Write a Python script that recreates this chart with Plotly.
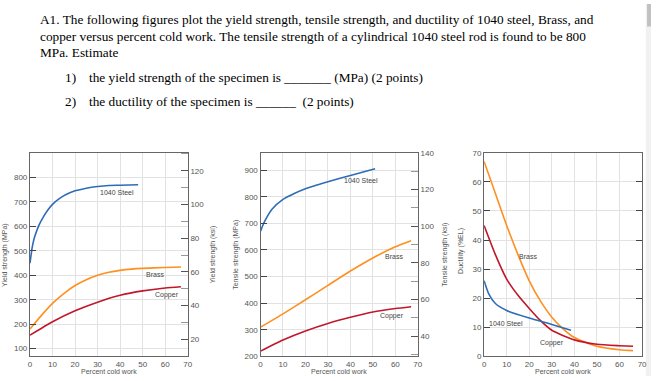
import plotly.graph_objects as go

# ---------------- data ----------------
# Yield strength (MPa) vs percent cold work
ys_steel_x = [0, 1, 2, 4, 6, 8, 10, 13, 16, 20, 25, 30, 35, 40, 48]
ys_steel_y = [450, 515, 555, 605, 640, 668, 690, 713, 730, 745, 756, 763, 767, 768, 770]
ys_brass_x = [0, 5, 10, 15, 20, 25, 30, 35, 40, 45, 50, 60, 67]
ys_brass_y = [180, 235, 285, 325, 358, 382, 400, 412, 420, 425, 428, 432, 434]
ys_copper_x = [0, 10, 20, 30, 40, 50, 60, 67]
ys_copper_y = [155, 210, 255, 290, 318, 336, 348, 353]

# Tensile strength (MPa) vs percent cold work
ts_steel_x = [0, 1, 2, 5, 10, 15, 20, 30, 40, 51]
ts_steel_y = [670, 692, 710, 752, 790, 812, 830, 856, 880, 905]
ts_brass_x = [0, 10, 20, 30, 40, 50, 60, 67]
ts_brass_y = [310, 360, 413, 467, 521, 570, 612, 635]
ts_copper_x = [0, 10, 20, 30, 40, 50, 60, 67]
ts_copper_y = [220, 262, 296, 324, 347, 367, 380, 387]

# Ductility (%EL) vs percent cold work
du_brass_x = [0, 5, 10, 15, 20, 25, 30, 35, 40, 50, 60, 66]
du_brass_y = [67, 56, 45, 35, 26, 19, 13.5, 9.5, 6.5, 3.5, 2.3, 2]
du_copper_x = [0, 5, 10, 15, 20, 25, 30, 40, 50, 60, 66]
du_copper_y = [45, 35, 26.6, 21, 16.5, 12.3, 9, 5.7, 4.2, 3.7, 3.5]
du_steel_x = [0, 2, 5, 10, 20, 30, 38.5]
du_steel_y = [26, 21.6, 18.2, 15.8, 13.2, 11, 9]

x_ticks = [0, 10, 20, 30, 40, 50, 60, 70]
ys_mpa_ticks = [100, 200, 300, 400, 500, 600, 700, 800]
ys_ksi_ticks = [20, 40, 60, 80, 100, 120]
ts_mpa_ticks = [200, 300, 400, 500, 600, 700, 800, 900]
ts_ksi_ticks = [40, 60, 80, 100, 120, 140]
du_ticks = [0, 10, 20, 30, 40, 50, 60, 70]
MPA_PER_KSI = 6.895

question_lines = [
    "A1. The following figures plot the yield strength, tensile strength, and ductility of 1040 steel, Brass, and",
    "copper versus percent cold work. The tensile strength of a cylindrical 1040 steel rod is found to be 800",
    "MPa. Estimate",
]
item_nums = ["1)", "2)"]
item_texts = [
    "the yield strength of the specimen is _______ (MPa) (2 points)",
    "the ductility of the specimen is ______\u00a0\u00a0(2 points)",
]

# ---------------- styling ----------------
W, H = 656, 381
BLUE, ORANGE, RED = "#2f6cb8", "#ff8f1f", "#c0182a"
AXC, GRIDC, TXTC = "#666666", "#e2e2e2", "#555555"
SANS = "Liberation Sans, Arial, sans-serif"
SERIF = "Liberation Serif, Times New Roman, serif"

def px(x):
    return x / W

def py(y):
    return 1 - y / H

Y_DOM = [py(361), py(152.3)]
X_DOMS = [[px(28.3), px(187.7)], [px(261.3), px(420.3)], [px(487.3), px(647)]]

fig = go.Figure()

def add(x, y, color, xa, ya):
    fig.add_trace(go.Scatter(x=x, y=y, mode="lines", line=dict(color=color, width=1.6, shape="spline", smoothing=0.6),
                             xaxis=xa, yaxis=ya, showlegend=False, hoverinfo="skip"))

add(ys_steel_x, ys_steel_y, BLUE, "x", "y")
add(ys_brass_x, ys_brass_y, ORANGE, "x", "y")
add(ys_copper_x, ys_copper_y, RED, "x", "y")
add(ts_steel_x, ts_steel_y, BLUE, "x2", "y3")
add(ts_brass_x, ts_brass_y, ORANGE, "x2", "y3")
add(ts_copper_x, ts_copper_y, RED, "x2", "y3")
add(du_brass_x, du_brass_y, ORANGE, "x3", "y5")
add(du_copper_x, du_copper_y, RED, "x3", "y5")
add(du_steel_x, du_steel_y, BLUE, "x3", "y5")
# empty traces so that the secondary (ksi) axes are drawn
fig.add_trace(go.Scatter(x=[], y=[], xaxis="x", yaxis="y2", showlegend=False, hoverinfo="skip"))
fig.add_trace(go.Scatter(x=[], y=[], xaxis="x2", yaxis="y4", showlegend=False, hoverinfo="skip"))

tickfont = dict(family=SANS, size=8, color=TXTC)

def xax(dom, anchor):
    return dict(domain=dom, anchor=anchor, range=[0, 70], tickvals=x_ticks, showline=True, linecolor=AXC,
                linewidth=1.2, mirror=True, showgrid=True, gridcolor=GRIDC, gridwidth=1, zeroline=False,
                ticks="", tickfont=tickfont, fixedrange=True)

def yleft(rng, anchor, tickvals, mirror=False):
    d = dict(domain=Y_DOM, anchor=anchor, range=rng, tickvals=tickvals, showline=True, linecolor=AXC,
             linewidth=1.2, showgrid=True, gridcolor=GRIDC, gridwidth=1, zeroline=False, ticks="inside",
             ticklen=6, tickcolor="#444444", tickfont=tickfont, fixedrange=True)
    if mirror:
        d["mirror"] = "ticks"
    return d

def yright(rng, overlay, anchor, tickvals):
    return dict(overlaying=overlay, anchor=anchor, side="right", range=rng, tickvals=tickvals, showline=True,
                linecolor=AXC, linewidth=1.2, showgrid=False, zeroline=False, ticks="inside", ticklen=7,
                tickcolor="#555555", tickfont=tickfont, fixedrange=True,
                minor=dict(dtick=10, tick0=0, ticks="inside", ticklen=7, tickcolor="#999999", showgrid=False))

r1 = [68, 901]
r3 = [200, 965.3]
fig.update_layout(
    width=W, height=H, margin=dict(l=0, r=0, t=0, b=0),
    paper_bgcolor="white", plot_bgcolor="white",
    xaxis=xax(X_DOMS[0], "y"),
    xaxis2=xax(X_DOMS[1], "y3"),
    xaxis3=xax(X_DOMS[2], "y5"),
    yaxis=yleft(r1, "x", ys_mpa_ticks),
    yaxis2=yright([r1[0] / MPA_PER_KSI, r1[1] / MPA_PER_KSI], "y", "x", ys_ksi_ticks),
    yaxis3=yleft(r3, "x2", ts_mpa_ticks),
    yaxis4=yright([r3[0] / MPA_PER_KSI, r3[1] / MPA_PER_KSI], "y3", "x2", ts_ksi_ticks),
    yaxis5=yleft([0, 70], "x3", du_ticks, mirror=True),
)

ann = []
# question text
for txt, yc in zip(question_lines, [16.3, 32.9, 49.9]):
    ann.append(dict(text=txt, x=px(36.5), y=py(yc), xref="paper", yref="paper", xanchor="left",
                    yanchor="middle", showarrow=False, font=dict(family=SERIF, size=13.3, color="black")))
for num, txt, yc in zip(item_nums, item_texts, [75.6, 99.6]):
    ann.append(dict(text=num, x=px(61.5), y=py(yc), xref="paper", yref="paper", xanchor="left",
                    yanchor="middle", showarrow=False, font=dict(family=SERIF, size=13.3, color="black")))
    ann.append(dict(text=txt, x=px(85.5), y=py(yc), xref="paper", yref="paper", xanchor="left",
                    yanchor="middle", showarrow=False, font=dict(family=SERIF, size=13.3, color="black")))

# axis titles
lab = dict(family=SANS, size=7, color=TXTC)
for txt, xc, yc in [("Yield strength (MPa)", 3, 257), ("Yield strength (ksi)", 213.3, 256.5),
                    ("Tensile strength (MPa)", 235.7, 256.7), ("Tensile strength (ksi)", 447, 256.7),
                    ("Ductility (%EL)", 463.3, 252.5)]:
    ann.append(dict(text=txt, x=px(xc), y=py(yc), xref="paper", yref="paper", xanchor="center",
                    yanchor="middle", textangle=-90, showarrow=False, font=lab))
for xc in [108, 341, 567]:
    ann.append(dict(text="Percent cold work", x=px(xc), y=py(376.5), xref="paper", yref="paper",
                    xanchor="center", yanchor="middle", showarrow=False, font=lab))

# curve labels
clab = dict(family=SANS, size=7, color="#444444")
for txt, xa, ya, xv, yv in [("1040 Steel", "x", "y", 38.8, 739), ("Brass", "x", "y", 55.6, 403),
                            ("Copper", "x", "y", 60.8, 320),
                            ("1040 Steel", "x2", "y3", 44.5, 860), ("Brass", "x2", "y3", 59.2, 574),
                            ("Copper", "x2", "y3", 58.6, 353),
                            ("Brass", "x3", "y5", 19.5, 34.2), ("1040 Steel", "x3", "y5", 9.5, 11.3),
                            ("Copper", "x3", "y5", 30.1, 4.8)]:
    ann.append(dict(text=txt, x=xv, y=yv, xref=xa, yref=ya, xanchor="center", yanchor="middle",
                    showarrow=False, font=clab))

fig.update_layout(annotations=ann)

# browser scrollbar strip at the right edge
fig.add_shape(type="rect", xref="paper", yref="paper", x0=px(650.7), x1=1, y0=0, y1=1,
              fillcolor="#f1f1f1", line_width=0, layer="below")
fig.add_shape(type="rect", xref="paper", yref="paper", x0=px(652), x1=1, y0=py(23), y1=1,
              fillcolor="#c1c1c1", line_width=0, layer="below")

fig.write_html("out.html", config={"displayModeBar": False},
               post_script="document.body.style.margin='0';document.body.style.overflow='hidden';")
